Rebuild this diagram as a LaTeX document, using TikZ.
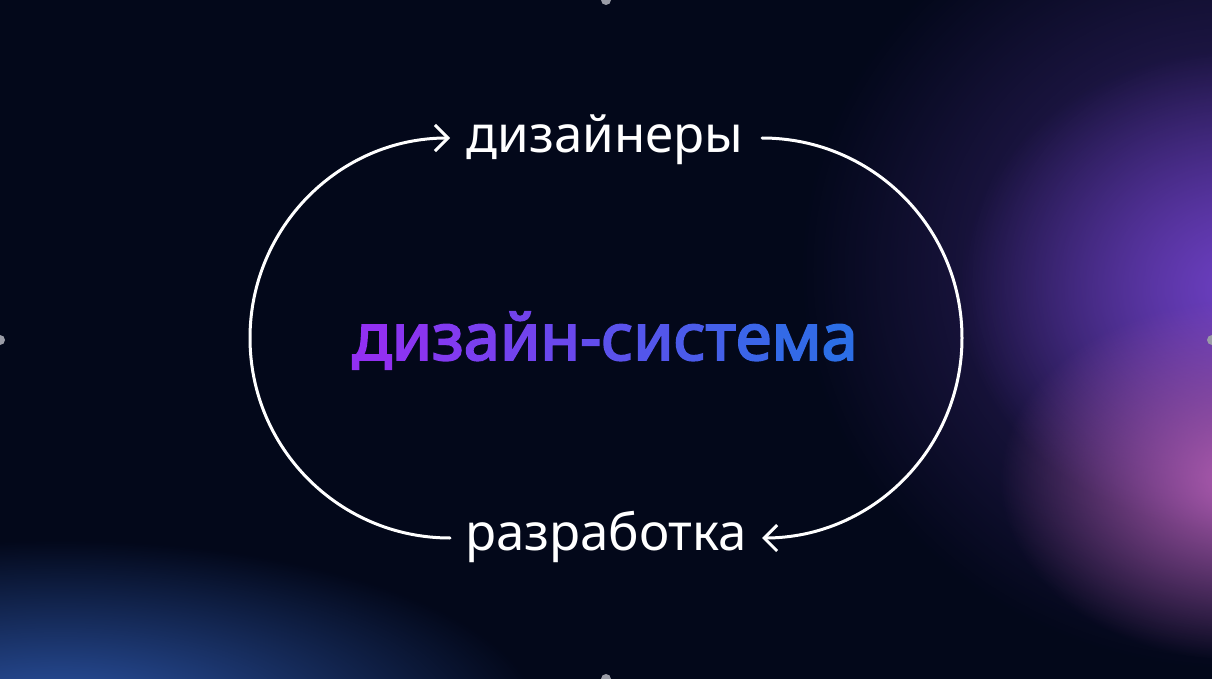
\documentclass[tikz,border=0pt]{standalone}
\usepackage{fontspec}
\setmainfont{Noto Sans}
\newfontfamily\titlefont{Noto Sans}[FakeBold=3]
\usepackage{tikz}
\usetikzlibrary{arrows.meta,fadings}

\definecolor{bgnavy}{RGB}{3,8,26}
\definecolor{glowviolet}{HTML}{6E40C4}
\definecolor{glowpink}{HTML}{B05CB0}
\definecolor{glowblue}{HTML}{2E58AC}
\definecolor{gradpurple}{HTML}{9230F2}
\definecolor{gradblue}{HTML}{2C6EE6}
\definecolor{handlegray}{HTML}{9A9CA6}

\tikzfading[name=softglow, inner color=transparent!0, outer color=transparent!100]

\begin{document}
\begin{tikzpicture}[
    x=1bp, y=1bp,
    >={Straight Barb[length=13bp, width=26bp]},
    looparc/.style={draw=white, line width=3bp, line cap=round},
    roletext/.style={text=white, font=\fontsize{51bp}{58bp}\selectfont, inner sep=0pt, anchor=base},
    titletext/.style={font=\fontsize{65bp}{72bp}\titlefont, inner sep=0pt, anchor=base}]

    \useasboundingbox (0,0) rectangle (1212,-679);
    % background with soft glows
    \fill[bgnavy] (0,0) rectangle (1212,-679);
    \begin{scope}
        \clip (0,0) rectangle (1212,-679);
        \fill[glowviolet, opacity=0.5, path fading=softglow] (1240,-270) ellipse [x radius=440, y radius=400];
        \fill[glowviolet, path fading=softglow] (1240,-290) ellipse [x radius=280, y radius=240];
        \fill[glowpink, path fading=softglow] (1240,-480) ellipse [x radius=240, y radius=180];
        \fill[glowblue, path fading=softglow] (60,-720) ellipse [x radius=480, y radius=180];
    \end{scope}
    \foreach \hx/\hy in {606/0, 606/-679, 0/-340, 1212/-340}
        \fill[handlegray] (\hx,\hy) circle (5);

    % labels
    \node[roletext] (designers) at (605,-153) {дизайнеры};
    \node[roletext] (develop) at (606,-550) {разработка};
    \node[titletext] (dsystem) at (605,-360) {\foreach \ch [count=\k from 0] in {д,и,з,а,й,н,-,с,и,с,т,е,м,а}{\pgfmathtruncatemacro\mixpct{100-100*\k/13}\textcolor{gradpurple!\mixpct!gradblue}{\ch}}};

    % loop
    \coordinate (devout) at (450,-538);
    \coordinate (desout) at (762,-138);
    \draw[looparc, ->] (devout) arc[start angle=270, end angle=90, radius=200];
    \draw[looparc, ->] (desout) arc[start angle=90, end angle=-90, radius=200];
\end{tikzpicture}
\end{document}
